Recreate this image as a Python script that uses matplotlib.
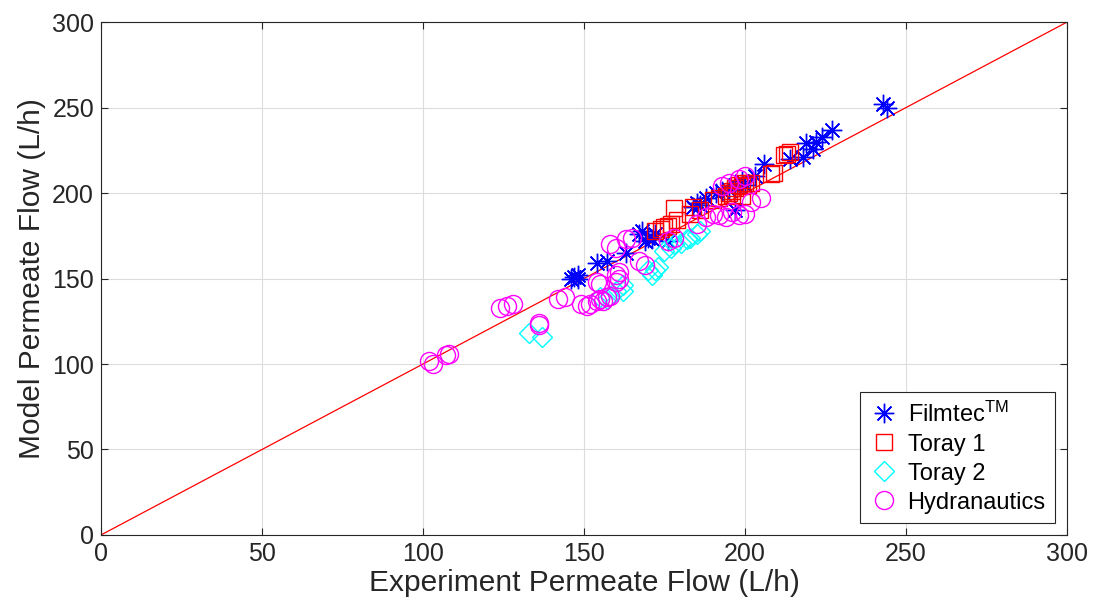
import numpy as np
import matplotlib
matplotlib.use('Agg')
import matplotlib.pyplot as plt

plt.rcParams['font.family'] = ['Liberation Sans', 'DejaVu Sans']
plt.rcParams['mathtext.fontset'] = 'custom'
plt.rcParams['mathtext.rm'] = 'Liberation Sans'
plt.rcParams['mathtext.it'] = 'Liberation Sans'

# --- data (L/h) ---
filmtec_exp = [146, 147, 148, 148, 154, 157, 163, 167, 168, 169, 170, 171, 172, 176,
               184, 185, 186, 188, 191, 193, 195, 197, 197, 199, 200, 203, 206,
               214, 218, 219, 221, 222, 224, 227, 243, 244]
filmtec_mod = [150, 151, 150, 152, 159, 160, 165, 176, 178, 172, 174, 173, 176, 172,
               192, 194, 193, 197, 200, 201, 202, 205, 190, 207, 205, 210, 217,
               220, 221, 229, 226, 230, 233, 237, 252, 250]

toray1_exp = [172, 174, 175, 176, 177, 178, 179, 183, 184, 186, 190, 192, 194, 195,
              196, 197, 198, 199, 200, 201, 202, 196, 199, 208, 209, 212, 213, 214]
toray1_mod = [178, 179, 180, 181, 182, 191, 184, 188, 192, 190, 196, 197, 198, 200,
              201, 203, 205, 204, 206, 205, 206, 199, 198, 211, 212, 222, 223, 224]

toray2_exp = [133, 137, 155, 157, 158, 160, 162, 162, 170, 171, 172, 173, 175, 177,
              178, 180, 182, 183, 185, 186]
toray2_mod = [118, 116, 139, 138, 140, 143, 146, 143, 155, 152, 155, 157, 166, 168,
              170, 171, 173, 174, 176, 178]

hydra_exp = [102, 103, 107, 108, 124, 126, 128, 136, 136, 142, 144, 149, 151, 152,
             154, 155, 156, 157, 158, 154, 155, 160, 161, 161, 160, 158, 160, 163,
             165, 167, 169, 176, 178, 185, 188, 190, 192, 194, 196, 198, 200, 202,
             205, 193, 195, 198, 200]
hydra_mod = [102, 100, 105, 106, 133, 134, 135, 124, 123, 138, 139, 135, 134, 135,
             137, 138, 137, 139, 140, 148, 147, 152, 154, 150, 148, 170, 168, 173,
             174, 160, 158, 172, 174, 182, 186, 188, 187, 186, 189, 187, 188, 195,
             197, 204, 206, 208, 210]

fig = plt.figure(figsize=(10.94, 6.14), dpi=100)
ax = fig.add_axes([0.0923, 0.1287, 0.8830, 0.8353])

ax.plot([0, 300], [0, 300], color='red', linewidth=0.9, zorder=2)

ms = 12
ax.plot(filmtec_exp, filmtec_mod, linestyle='none', marker=(8, 2, 0), markersize=ms + 2,
        color='blue', markeredgewidth=1.0, label=r'Filmtec$^{\mathrm{TM}}$', zorder=3)
ax.plot(toray1_exp, toray1_mod, linestyle='none', marker='s', markersize=ms - 1,
        markerfacecolor='none', markeredgecolor='red', markeredgewidth=1.0,
        label='Toray 1', zorder=3)
ax.plot(toray2_exp, toray2_mod, linestyle='none', marker='D', markersize=ms - 2,
        markerfacecolor='none', markeredgecolor='cyan', markeredgewidth=1.0,
        label='Toray 2', zorder=3)
ax.plot(hydra_exp, hydra_mod, linestyle='none', marker='o', markersize=ms + 1,
        markerfacecolor='none', markeredgecolor='magenta', markeredgewidth=1.0,
        label='Hydranautics', zorder=3)

ax.set_xlim(0, 300)
ax.set_ylim(0, 300)
ax.set_xticks(np.arange(0, 301, 50))
ax.set_yticks(np.arange(0, 301, 50))
ax.tick_params(direction='in', top=True, right=True, labelsize=18, colors='#262626',
               length=5, width=0.8, pad=5)
ax.grid(True, color='#dcdcdc', linewidth=0.8)
ax.set_axisbelow(True)
for s in ax.spines.values():
    s.set_color('#262626')
    s.set_linewidth(0.8)

ax.set_xlabel('Experiment Permeate Flow (L/h)', fontsize=21.5, color='#262626', labelpad=2)
ax.set_ylabel('Model Permeate Flow (L/h)', fontsize=21.5, color='#262626', labelpad=4)

leg = ax.legend(loc='lower right', fontsize=17, frameon=True, fancybox=False,
                edgecolor='#262626', framealpha=1, handletextpad=0.4,
                borderaxespad=0.5, labelspacing=0.3, handlelength=1.2,
                borderpad=0.4)
leg.get_frame().set_linewidth(0.8)

fig.savefig('out.png', dpi=100)
